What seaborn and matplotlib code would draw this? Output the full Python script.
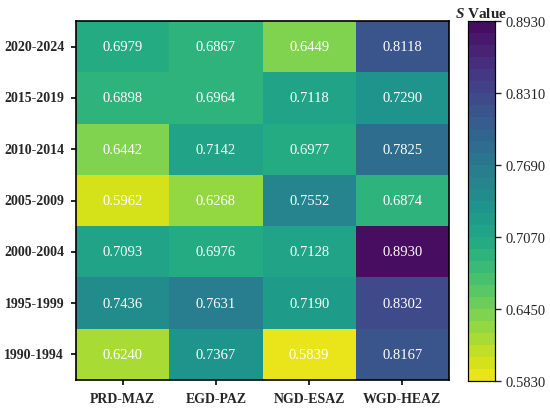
import matplotlib
matplotlib.use("Agg")
import matplotlib.pyplot as plt
import seaborn as sns
import numpy as np
import pandas as pd
from matplotlib.colors import ListedColormap

# values (top row first)
periods = ["2020-2024", "2015-2019", "2010-2014", "2005-2009",
           "2000-2004", "1995-1999", "1990-1994"]
zones = ["PRD-MAZ", "EGD-PAZ", "NGD-ESAZ", "WGD-HEAZ"]

prd_maz = [0.6979, 0.6898, 0.6442, 0.5962, 0.7093, 0.7436, 0.6240]
egd_paz = [0.6867, 0.6964, 0.7142, 0.6268, 0.6976, 0.7631, 0.7367]
ngd_esaz = [0.6449, 0.7118, 0.6977, 0.7552, 0.7128, 0.7190, 0.5839]
wgd_heaz = [0.8118, 0.7290, 0.7825, 0.6874, 0.8930, 0.8302, 0.8167]

v_min, v_max = 0.5830, 0.8930
cbar_ticks = [0.5830, 0.6450, 0.7070, 0.7690, 0.8310, 0.8930]

df = pd.DataFrame({"PRD-MAZ": prd_maz, "EGD-PAZ": egd_paz,
                   "NGD-ESAZ": ngd_esaz, "WGD-HEAZ": wgd_heaz},
                  index=periods)[zones]

sns.set_style("white")
plt.rcParams['font.family'] = ['Liberation Serif', 'DejaVu Serif']
plt.rcParams['mathtext.fontset'] = 'custom'
plt.rcParams['mathtext.it'] = 'Liberation Serif:italic:bold'
plt.rcParams['mathtext.rm'] = 'Liberation Serif:bold'

# stepped viridis, like the banded colour bar in the reference
cmap = ListedColormap(sns.color_palette("viridis_r", 30))

fig = plt.figure(figsize=(5.5, 4.1), dpi=100)
ax = fig.add_axes([76 / 550, 1 - 381 / 410, 373 / 550, 359 / 410])
cax = fig.add_axes([468 / 550, 1 - 382 / 410, 27 / 550, 360 / 410])

sns.heatmap(df, ax=ax, cbar_ax=cax, cmap=cmap, vmin=v_min, vmax=v_max,
            annot=True, fmt=".4f",
            annot_kws={"color": "white", "fontsize": 10.5},
            cbar_kws={"ticks": cbar_ticks})

for spine in ax.spines.values():
    spine.set_visible(True)
    spine.set_color("black")
    spine.set_linewidth(1.2)

ax.tick_params(axis="both", length=3.5, width=1.2, color="black",
               bottom=True, left=True, pad=5)
ax.set_xticklabels(zones, fontweight="bold", fontsize=10, rotation=0)
ax.set_yticklabels(periods, fontweight="bold", fontsize=10, rotation=0)
ax.set_xlabel("")
ax.set_ylabel("")

cax.tick_params(length=4, width=1, labelsize=10.5)
cax.set_yticklabels([f"{t:.4f}" for t in cbar_ticks])
for spine in cax.spines.values():
    spine.set_visible(True)
    spine.set_color("black")
    spine.set_linewidth(0.8)
cax.set_title(r"$\mathit{S}$ Value", fontsize=11, fontweight="bold", pad=3)

fig.savefig("out.png", dpi=100)
